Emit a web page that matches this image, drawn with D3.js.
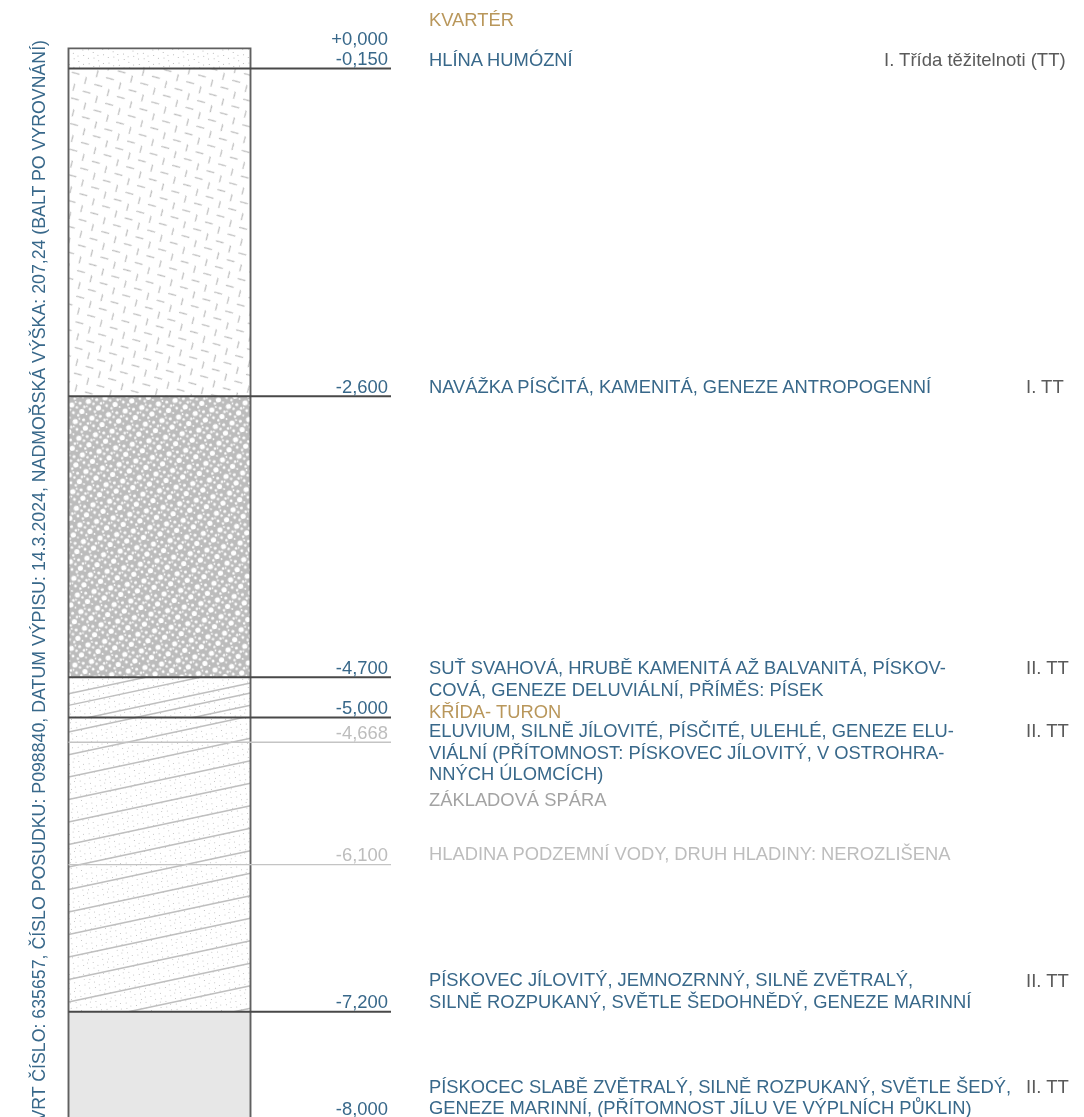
<!DOCTYPE html>
<html><head><meta charset="utf-8">
<script src="https://d3js.org/d3.v7.min.js"></script>
<style>html,body{margin:0;padding:0;background:#fff}svg{display:block;filter:blur(.5px)}text{font-family:"Liberation Sans",Arial,sans-serif}</style>
</head><body><div id="c"></div>
<script>
// layer boundaries, metres below terrain
const layerTops=[0,0.15,2.6,4.7,5.0,7.2];
const layerBottoms=[0.15,2.6,4.7,5.0,7.2,8.4];
const layerPatterns=["stipple","dashes","gravel","hatch","hatch","solid"];
// depth levels: label, plotted depth, line style
const levelLabels=["+0,000","-0,150","-2,600","-4,700","-5,000","-4,668","-6,100","-7,200","-8,000"];
const levelDepths=[0,0.15,2.6,4.7,5.0,5.185,6.1,7.2,8.0];
const levelKinds=["none","strong","strong","strong","strong","faint","faint","strong","none"];
const descTexts=[
 ["KVARTÉR"],["HLÍNA HUMÓZNÍ"],["NAVÁŽKA PÍSČITÁ, KAMENITÁ, GENEZE ANTROPOGENNÍ"],
 ["SUŤ SVAHOVÁ, HRUBĚ KAMENITÁ AŽ BALVANITÁ, PÍSKOV-","COVÁ, GENEZE DELUVIÁLNÍ, PŘÍMĚS: PÍSEK"],
 ["KŘÍDA- TURON"],
 ["ELUVIUM, SILNĚ JÍLOVITÉ, PÍSČITÉ, ULEHLÉ, GENEZE ELU-","VIÁLNÍ (PŘÍTOMNOST: PÍSKOVEC JÍLOVITÝ, V OSTROHRA-","NNÝCH ÚLOMCÍCH)"],
 ["ZÁKLADOVÁ SPÁRA"],["HLADINA PODZEMNÍ VODY, DRUH HLADINY: NEROZLIŠENA"],
 ["PÍSKOVEC JÍLOVITÝ, JEMNOZRNNÝ, SILNĚ ZVĚTRALÝ,","SILNĚ ROZPUKANÝ, SVĚTLE ŠEDOHNĚDÝ, GENEZE MARINNÍ"],
 ["PÍSKOCEC SLABĚ ZVĚTRALÝ, SILNĚ ROZPUKANÝ, SVĚTLE ŠEDÝ,","GENEZE MARINNÍ, (PŘÍTOMNOST JÍLU VE VÝPLNÍCH PŮKLIN)"]];
const descDepths=[-0.164,0.128,2.572,4.675,5.001,5.15,5.664,6.069,7.005,7.807];
const descKinds=["geo","desc","desc","desc","geo","desc","grey","faint","desc","desc"];
const classTexts=["I. Třída těžitelnoti (TT)","I. TT","II. TT","II. TT","II. TT","II. TT"];
const classDepths=[0.1315,2.572,4.675,5.15,7.014,7.807];
const sideTitle="VRT ČÍSLO: 635657, ČÍSLO POSUDKU: P098840, DATUM VÝPISU: 14.3.2024, NADMOŘSKÁ VÝŠKA: 207,24 (BALT PO VYROVNÁNÍ)";
// strata lines: depth where each meets the left edge of the column
const strataUpper=[4.823,4.91,5.032,5.107,5.199];
const strataLower=[5.109,5.279,5.446,5.614,5.782,5.95,6.118,6.286,6.454,6.622,6.791,6.959,7.127,7.295,7.463];
const strataRise=0.29;

const W=1084,H=1117;
const y=d3.scaleLinear().domain([0,7.2]).range([48.4,1011.8]);
const X0=68.5,X1=250.5,LINE_END=391,LABEL_X=388,DESC_X=429;
const svg=d3.select("#c").append("svg").attr("width",W).attr("height",H);
const defs=svg.append("defs");

// textures
const BLUE="#38688a",TAN="#b9975b",GREY="#a3a3a3",FAINT="#bdbdbd";
function dots(g,n,w,h,r,fill){
  for(let i=0;i<n;i++){const a=(i*0.7548777)%1,b=(i*0.5698403)%1;
    g.append("circle").attr("cx",a*w).attr("cy",b*h).attr("r",r).attr("fill",fill);}
}
let p=defs.append("pattern").attr("id","stipple").attr("patternUnits","userSpaceOnUse").attr("width",70).attr("height",70);
dots(p,150,70,70,.5,"#a8a8a8");
p=defs.append("pattern").attr("id","dashes").attr("patternUnits","userSpaceOnUse").attr("width",13.5).attr("height",21.8).attr("patternTransform","translate(68,72) rotate(-30)");
[[6,5,45],[11.3,15.8,135]].forEach(d=>
 p.append("line").attr("x1",-4).attr("x2",4).attr("stroke","#b4b4b4").attr("stroke-width",1.1)
  .attr("transform",`translate(${d[0]},${d[1]}) rotate(${d[2]})`));
p=defs.append("pattern").attr("id","gravel").attr("patternUnits","userSpaceOnUse").attr("width",17).attr("height",17).attr("patternTransform","rotate(-12)");
p.append("rect").attr("width",17).attr("height",17).attr("fill","#bcbcbc");
[[3,3,2.6],[11.5,3,1.5],[7.5,6.5,1.2],[3,11,1.4],[11.5,11.5,2.6],[7.2,14.5,1.2],[15,7.5,1.3],[.5,7.5,.9],[7.5,1,.9],[15.5,15,.9]].forEach(d=>
 p.append("circle").attr("cx",d[0]).attr("cy",d[1]).attr("r",d[2]).attr("fill","#fff"));
p=defs.append("pattern").attr("id","hatch").attr("patternUnits","userSpaceOnUse").attr("width",70).attr("height",70);
dots(p,170,70,70,.5,"#b8b8b8");
p=defs.append("pattern").attr("id","solid").attr("patternUnits","userSpaceOnUse").attr("width",4).attr("height",4);
p.append("rect").attr("width",4).attr("height",4).attr("fill","#e7e7e7");

svg.append("g").selectAll("rect.layer").data(layerTops).join("rect").attr("class","layer")
 .attr("x",X0).attr("width",X1-X0).attr("y",d=>y(d))
 .attr("height",(d,i)=>y(layerBottoms[i])-y(d))
 .attr("fill",(d,i)=>`url(#${layerPatterns[i]})`);

// sloping strata lines, each group clipped to its layer
function strata(id,top,bottom,depths){
  defs.append("clipPath").attr("id",id).append("rect")
    .attr("x",X0).attr("y",y(top)).attr("width",X1-X0).attr("height",y(bottom)-y(top));
  svg.append("g").attr("clip-path",`url(#${id})`).selectAll("line").data(depths).join("line")
   .attr("x1",X0).attr("x2",X1)
   .attr("y1",d=>y(d)).attr("y2",d=>y(d-strataRise))
   .attr("stroke","#bfbfbf").attr("stroke-width",1.5);
}
strata("clipU",4.7,5.0,strataUpper);
strata("clipL",5.0,7.2,strataLower);

// column outline
svg.append("path").attr("fill","none").attr("stroke","#606060").attr("stroke-width",1.9)
 .attr("d",`M${X0},${H+3}V${y(0)}H${X1}V${H+3}`);

// level lines
const lv=levelDepths.map((d,i)=>({d,label:levelLabels[i],kind:levelKinds[i]}));
svg.append("g").selectAll("line").data(lv.filter(d=>d.kind!=="none")).join("line")
 .attr("x1",X0).attr("x2",LINE_END)
 .attr("y1",d=>y(d.d)).attr("y2",d=>y(d.d))
 .attr("stroke",d=>d.kind==="strong"?"#484848":"#c4c4c4").attr("stroke-width",d=>d.kind==="strong"?1.9:1.4);
svg.append("g").selectAll("text").data(lv).join("text")
 .attr("x",LABEL_X).attr("y",d=>y(d.d)-3.5).attr("text-anchor","end")
 .attr("font-size",18.4).attr("fill",d=>d.kind==="faint"?FAINT:BLUE).text(d=>d.label);

// descriptions
const colour={desc:BLUE,geo:TAN,grey:GREY,faint:FAINT};
const dg=svg.append("g").selectAll("text").data(descTexts).join("text")
 .attr("font-size",18.35).attr("fill",(d,i)=>colour[descKinds[i]]);
dg.each(function(lines,i){
 const lh=lines.length===3?21.5:(i===9?21:22);
 d3.select(this).selectAll("tspan").data(lines).join("tspan")
  .attr("x",DESC_X).attr("y",(l,k)=>y(descDepths[i])+k*lh).text(l=>l);
});
// class labels
svg.append("g").selectAll("text").data(classTexts).join("text")
 .attr("x",(d,i)=>i===0?884:1026).attr("y",(d,i)=>y(classDepths[i]))
 .attr("font-size",18.5).attr("fill","#5a5a5a").text(d=>d);

// rotated side title
svg.append("text").attr("transform",`translate(45,40) rotate(-90)`).attr("text-anchor","end")
 .attr("font-size",17.75).attr("fill",BLUE).text(sideTitle);
</script></body></html>
